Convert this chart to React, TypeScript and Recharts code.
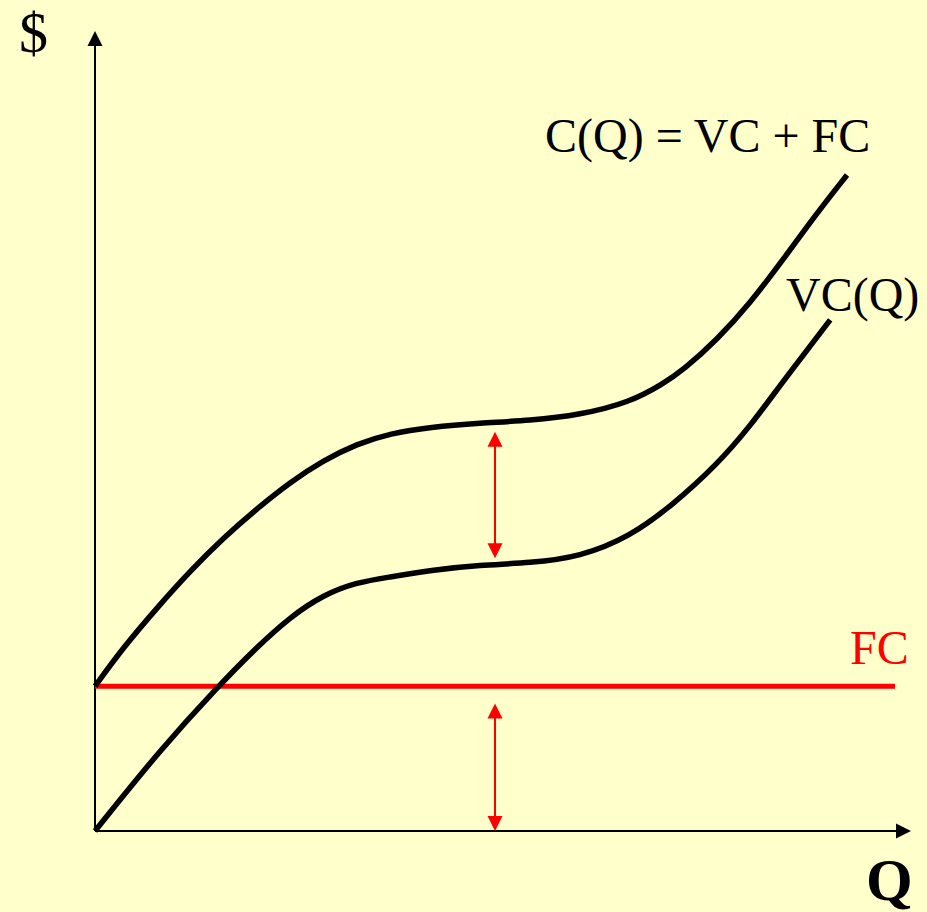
import React from 'react';
import {
  LineChart,
  Line,
  XAxis,
  YAxis,
  ReferenceLine,
  Customized,
} from 'recharts';

// total cost C(Q) = VC + FC
const costQ = [0, 3.5, 7.75, 11.9, 16, 20.25, 24.4, 28.5, 32.75, 36.9, 41.9, 48.1, 54.4, 60.6, 66.9, 71, 73.5, 77.75, 81.9, 86, 90.25, 94];
const costValues = [18.1, 22.9, 27.9, 32.5, 36.6, 40.3, 43.6, 46.3, 48.4, 49.7, 50.5, 51, 51.3, 52, 53.6, 55.9, 57.6, 61.4, 66, 71.4, 77.25, 82];

// variable cost VC(Q)
const vcQ = [0, 8.1, 15.4, 20.25, 24.4, 28.5, 32.75, 36.9, 41.9, 48.1, 54.4, 60.6, 66.9, 72.25, 77.75, 81.9, 86, 91.9];
const vcValues = [0, 10.1, 18.1, 23, 26.75, 29.5, 31.1, 31.75, 32.6, 33.25, 33.5, 34.25, 36.8, 40.8, 45.8, 50.6, 56.2, 63.9];

// fixed cost
const fcQ = [0, 100];
const fcValue = 18.1;

// double arrows at Q = 50
const arrowQ = 50;
const upperArrow = [49.9, 34.1];
const lowerArrow = [15.95, 0];

const costData = costQ.map((q, i) => ({ q, c: costValues[i] }));
const vcData = vcQ.map((q, i) => ({ q, vc: vcValues[i] }));
const fcData = fcQ.map((q) => ({ q, fc: fcValue }));

const BG = '#FFFFCC';
const RED = '#FF0000';
const FONT = '"Liberation Serif", "Times New Roman", serif';

// line with arrowheads drawn at either end
const arrowShape = (color: string, width: number, startHead: boolean, endHead: boolean, len = 15, half = 7.5) =>
  (p: any) => {
    const { x1, y1, x2, y2 } = p;
    const dx = x2 - x1;
    const dy = y2 - y1;
    const d = Math.sqrt(dx * dx + dy * dy) || 1;
    const ux = dx / d;
    const uy = dy / d;
    const head = (tx: number, ty: number, sx: number, sy: number) => {
      const bx = tx - sx * len;
      const by = ty - sy * len;
      return `${tx},${ty} ${bx - sy * half},${by + sx * half} ${bx + sy * half},${by - sx * half}`;
    };
    const ax = startHead ? x1 + ux * (len - 2) : x1;
    const ay = startHead ? y1 + uy * (len - 2) : y1;
    const bx = endHead ? x2 - ux * (len - 2) : x2;
    const by = endHead ? y2 - uy * (len - 2) : y2;
    return (
      <g>
        <line x1={ax} y1={ay} x2={bx} y2={by} stroke={color} strokeWidth={width} />
        {startHead && <polygon points={head(x1, y1, -ux, -uy)} fill={color} />}
        {endHead && <polygon points={head(x2, y2, ux, uy)} fill={color} />}
      </g>
    );
  };

const Labels = () => (
  <g fontFamily={FONT}>
    <text x={19} y={52} fontSize={58} fill="#000">$</text>
    <text x={866} y={900} fontSize={60} fontWeight="bold" fill="#000">Q</text>
    <text x={545} y={152} fontSize={48} fill="#000">C(Q) = VC + FC</text>
    <text x={786} y={311} fontSize={48} fill="#000">VC(Q)</text>
    <text x={850} y={664} fontSize={48} fill={RED}>FC</text>
  </g>
);

const App: React.FC = () => {
  return (
    <div style={{ width: 927, height: 912, background: BG }}>
      <style>{`body{margin:0}`}</style>
      <LineChart width={927} height={912} margin={{ top: 31, right: 16, bottom: 81, left: 95 }}>
        <XAxis type="number" dataKey="q" domain={[0, 102]} hide />
        <YAxis type="number" domain={[0, 100]} hide />

        {/* axes with arrows */}
        <ReferenceLine segment={[{ x: 0, y: 0 }, { x: 102, y: 0 }]} shape={arrowShape('#000', 2, false, true)} />
        <ReferenceLine segment={[{ x: 0, y: 0 }, { x: 0, y: 100 }]} shape={arrowShape('#000', 2, false, true)} />

        <Line data={fcData} dataKey="fc" type="linear" stroke={RED} strokeWidth={5} dot={false} isAnimationActive={false} />
        <Line data={costData} dataKey="c" type="basis" stroke="#000" strokeWidth={5.5} dot={false} isAnimationActive={false} />
        <Line data={vcData} dataKey="vc" type="basis" stroke="#000" strokeWidth={5.5} dot={false} isAnimationActive={false} />

        {/* red double arrows */}
        <ReferenceLine segment={[{ x: arrowQ, y: upperArrow[0] }, { x: arrowQ, y: upperArrow[1] }]} shape={arrowShape(RED, 2, true, true)} />
        <ReferenceLine segment={[{ x: arrowQ, y: lowerArrow[0] }, { x: arrowQ, y: lowerArrow[1] }]} shape={arrowShape(RED, 2, true, true)} />

        <Customized component={Labels} />
      </LineChart>
    </div>
  );
};

export default App;
